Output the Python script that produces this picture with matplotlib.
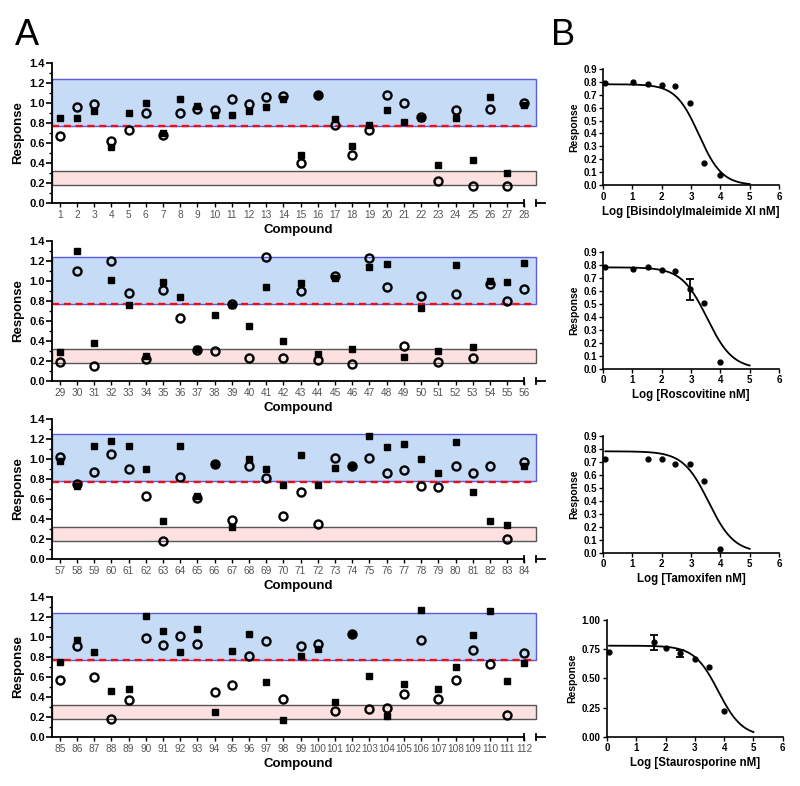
import matplotlib
matplotlib.use('Agg')
import matplotlib.pyplot as plt
from matplotlib.patches import Rectangle
from matplotlib.ticker import MultipleLocator
import numpy as np

plt.rcParams['font.family'] = ['Liberation Sans', 'DejaVu Sans']

# ---------------- Panel A data ----------------
compounds = list(range(1, 113))
squares = [
    0.853, 0.85, 0.92, 0.557, 0.905, 1.00, 0.697, 1.04, 0.969, 0.88, 0.876, 0.922, 0.965, 1.04,
    0.484, 1.078, 0.836, 0.567, 0.78, 0.929, 0.81, 0.85, 0.385, 0.85, 0.431, 1.058, 0.299, 0.979,
    0.292, 1.30, 0.378, 1.014, 0.762, 0.249, 0.988, 0.845, 0.322, 0.663, 0.759, 0.547, 0.945, 0.398,
    0.984, 0.268, 1.034, 0.318, 1.14, 1.173, 0.239, 0.732, 0.298, 1.157, 0.341, 1.004, 0.991, 1.183,
    0.977, 0.733, 1.133, 1.18, 1.133, 0.903, 0.377, 1.133, 0.627, 0.947, 0.317, 0.997, 0.903, 0.737,
    1.04, 0.74, 0.913, 0.93, 1.23, 1.117, 1.153, 0.997, 0.863, 1.167, 0.67, 0.377, 0.34, 0.93,
    0.747, 0.97, 0.85, 0.463, 0.48, 1.213, 1.057, 0.85, 1.083, 0.25, 0.863, 1.027, 0.55, 0.167,
    0.813, 0.877, 0.353, 1.027, 0.607, 0.213, 0.53, 1.267, 0.477, 0.697, 1.02, 1.257, 0.56, 0.737,
]
circles = [
    0.674, 0.965, 0.995, 0.62, 0.727, 0.905, 0.677, 0.90, 0.936, 0.929, 1.04, 0.992, 1.062, 1.075,
    0.398, 1.078, 0.776, 0.481, 0.73, 1.082, 1.002, 0.86, 0.216, 0.929, 0.173, 0.942, 0.173, 1.005,
    0.186, 1.10, 0.152, 1.20, 0.882, 0.225, 0.911, 0.63, 0.312, 0.298, 0.772, 0.235, 1.236, 0.229,
    0.905, 0.215, 1.047, 0.169, 1.23, 0.941, 0.355, 0.855, 0.192, 0.875, 0.232, 0.971, 0.799, 0.921,
    1.02, 0.753, 0.867, 1.047, 0.897, 0.63, 0.183, 0.82, 0.61, 0.947, 0.387, 0.93, 0.81, 0.427,
    0.673, 0.347, 1.007, 0.93, 1.007, 0.86, 0.887, 0.73, 0.72, 0.933, 0.86, 0.927, 0.20, 0.97,
    0.573, 0.91, 0.603, 0.177, 0.367, 0.99, 0.92, 1.013, 0.93, 0.45, 0.517, 0.81, 0.963, 0.377,
    0.913, 0.93, 0.263, 1.027, 0.277, 0.287, 0.43, 0.973, 0.38, 0.57, 0.867, 0.733, 0.22, 0.843,
]
blue_band = (0.775, 1.245)
pink_band = (0.18, 0.32)
red_line = 0.775
a_yticks = [0.0, 0.2, 0.4, 0.6, 0.8, 1.0, 1.2, 1.4]

# ---------------- Panel B data ----------------
b_labels = ['Log [Bisindolylmaleimide XI nM]', 'Log [Roscovitine nM]',
            'Log [Tamoxifen nM]', 'Log [Staurosporine nM]']
b1_x = [0.08, 1.01, 1.55, 2.02, 2.46, 2.96, 3.45, 3.98]
b1_y = [0.792, 0.80, 0.784, 0.777, 0.766, 0.638, 0.175, 0.082]
b1_err = [0, 0, 0, 0, 0, 0, 0, 0]
b2_x = [0.08, 1.01, 1.55, 2.02, 2.46, 2.96, 3.45, 3.98]
b2_y = [0.785, 0.767, 0.78, 0.76, 0.754, 0.611, 0.509, 0.056]
b2_err = [0, 0, 0, 0, 0, 0.083, 0, 0]
b3_x = [0.08, 1.55, 2.02, 2.46, 2.98, 3.45, 3.98]
b3_y = [0.723, 0.723, 0.72, 0.685, 0.68, 0.551, 0.028]
b3_err = [0, 0, 0, 0, 0, 0, 0]
b4_x = [0.07, 1.6, 2.0, 2.49, 2.99, 3.47, 3.98]
b4_y = [0.729, 0.809, 0.757, 0.714, 0.669, 0.597, 0.223]
b4_err = [0, 0.065, 0, 0.028, 0, 0, 0]
# fitted sigmoid parameters (top, bottom, logIC50, hill)
fit_top = [0.78, 0.78, 0.78, 0.78]
fit_bottom = [0.0, 0.0, 0.0, 0.0]
fit_logic50 = [3.27, 3.55, 3.6, 3.8]
fit_hill = [1.1, 1.0, 1.0, 1.06]
b_ylims = [0.9, 0.9, 0.9, 1.0]
b_ytick_step = [0.1, 0.1, 0.1, 0.25]

fig = plt.figure(figsize=(8.0, 7.86), dpi=100)
W, H = 800.0, 786.0

def fig_rect(left, top, right, bottom):
    return [left / W, 1 - bottom / H, (right - left) / W, (bottom - top) / H]

# ---------------- Left panels ----------------
a_bottoms = [203, 381, 559, 737]
for p in range(4):
    ids = compounds[p * 28:(p + 1) * 28]
    s = squares[p * 28:(p + 1) * 28]
    c = circles[p * 28:(p + 1) * 28]
    x0 = ids[0] - 0.45
    x_end = ids[-1] + 1.2
    band_end = ids[-1] + 0.66
    b = a_bottoms[p]
    ax = fig.add_axes(fig_rect(52, b - 140, 545, b))
    ax.set_xlim(x0, x_end)
    ax.set_ylim(0, 1.4)
    ax.add_patch(Rectangle((x0, blue_band[0]), band_end - x0, blue_band[1] - blue_band[0],
                           facecolor='#c6dcf6', edgecolor='#5b5be0', lw=1.0, zorder=1))
    ax.add_patch(Rectangle((x0, pink_band[0]), band_end - x0, pink_band[1] - pink_band[0],
                           facecolor='#fde1e1', edgecolor='#555555', lw=1.0, zorder=1))
    ax.plot([x0, band_end], [red_line, red_line], color='#e8101a', ls=(0, (3, 2)), lw=1.7, zorder=2)
    ax.plot(ids, s, ls='none', marker='s', ms=4.8, color='black', zorder=3)
    ax.plot(ids, c, ls='none', marker='o', ms=5.8, mfc='none', mec='black', mew=1.7, zorder=4)

    for sp in ['top', 'right']:
        ax.spines[sp].set_visible(False)
    ax.spines['left'].set_linewidth(1.3)
    ax.spines['bottom'].set_linewidth(1.3)
    ax.spines['bottom'].set_bounds(x0, ids[-1])
    ax.plot([band_end, x_end], [0, 0], color='black', lw=1.3, clip_on=False)
    for xv in [ids[-1], band_end]:
        ax.plot([xv, xv], [-0.03, 0.03], color='black', lw=1.3, clip_on=False)

    ax.set_xticks(ids)
    ax.set_xticklabels([str(i) for i in ids], color='#555555', fontsize=7.3)
    ax.set_yticks(a_yticks)
    ax.set_yticklabels(['%.1f' % v for v in a_yticks], fontsize=8, fontweight='bold')
    ax.yaxis.set_minor_locator(MultipleLocator(0.1))
    ax.tick_params(axis='y', which='major', length=4, width=1.2, pad=1)
    ax.tick_params(axis='y', which='minor', length=2, width=1.0)
    ax.tick_params(axis='x', which='major', length=3, width=1.0, pad=2)
    ax.set_ylabel('Response', fontsize=9.5, fontweight='bold', labelpad=4)
    ax.set_xlabel('Compound', fontsize=9.5, fontweight='bold', labelpad=3)

# ---------------- Right panels ----------------
b_rects = [(603, 68.7, 779, 185.3), (603, 251.7, 779, 369), (603, 435.7, 779, 552.7),
           (607, 620, 782.7, 736.7)]
b_x = [b1_x, b2_x, b3_x, b4_x]
b_y = [b1_y, b2_y, b3_y, b4_y]
b_e = [b1_err, b2_err, b3_err, b4_err]
for i in range(4):
    l, t, r, bt = b_rects[i]
    ax = fig.add_axes(fig_rect(l, t, r, bt))
    ax.set_xlim(0, 6)
    ax.set_ylim(0, b_ylims[i])
    xs = np.linspace(b_x[i][0], 5, 300)
    ys = fit_bottom[i] + (fit_top[i] - fit_bottom[i]) / (1 + 10 ** (fit_hill[i] * (xs - fit_logic50[i])))
    ax.plot(xs, ys, color='black', lw=1.3, zorder=2)
    errs = np.array(b_e[i])
    ax.errorbar(b_x[i], b_y[i], yerr=np.where(errs > 0, errs, np.nan), fmt='o', ms=3.5,
                color='black', ecolor='black', elinewidth=1.3, capsize=3, capthick=1.3, zorder=3,
                clip_on=False)
    for sp in ['top', 'right']:
        ax.spines[sp].set_visible(False)
    ax.spines['left'].set_linewidth(1.2)
    ax.spines['bottom'].set_linewidth(1.2)
    ax.set_xticks(range(0, 7))
    ax.yaxis.set_major_locator(MultipleLocator(b_ytick_step[i]))
    if b_ytick_step[i] == 0.25:
        ax.yaxis.set_major_formatter(matplotlib.ticker.FormatStrFormatter('%.2f'))
    else:
        ax.yaxis.set_major_formatter(matplotlib.ticker.FormatStrFormatter('%.1f'))
    ax.tick_params(length=3, width=1.0, pad=1.5, labelsize=7)
    for lab in ax.get_xticklabels() + ax.get_yticklabels():
        lab.set_fontweight('bold')
    ax.set_xlabel(b_labels[i], fontsize=8.3, fontweight='bold', labelpad=3)
    ax.set_ylabel('Response', fontsize=7.5, fontweight='bold', labelpad=3)

fig.text(15 / W, 1 - 18 / H, 'A', fontsize=26, va='top', ha='left')
fig.text(551 / W, 1 - 18 / H, 'B', fontsize=26, va='top', ha='left')

fig.savefig('out.png', dpi=100)
